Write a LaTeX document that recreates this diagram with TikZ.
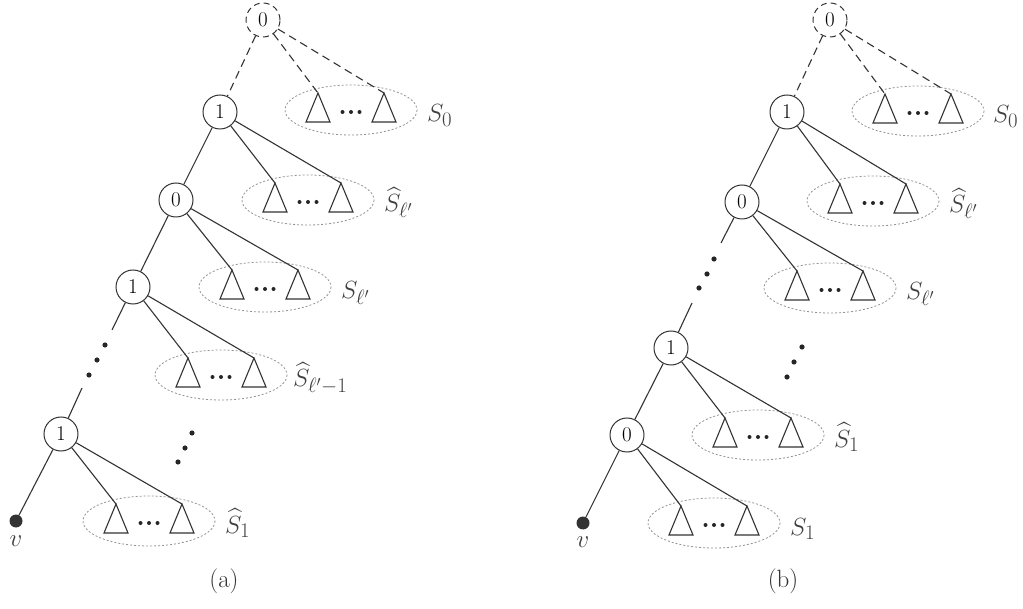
\documentclass[tikz,border=0pt]{standalone}
\usepackage{amsmath}
\newcommand\mkgroup[3]{% name, cx, cy
  \draw[grp] (#2,#3) ellipse [x radius=66, y radius=25];
  \coordinate (#1l) at ({#2-33},{#3-17});
  \coordinate (#1r) at ({#2+33},{#3-17});
  \draw[tri] (#1l) -- ++(-12,29) -- ++(24,0) -- cycle;
  \draw[tri] (#1r) -- ++(-12,29) -- ++(24,0) -- cycle;
  \fill[dotc] ({#2-8.5},{#3+2}) circle [radius=2];
  \fill[dotc] (#2,{#3+2}) circle [radius=2];
  \fill[dotc] ({#2+8.5},{#3+2}) circle [radius=2];
}
\begin{document}
\begin{tikzpicture}[x=1pt,y=-1pt,
  vtx/.style={circle,draw=black!80,line width=1pt,minimum size=34pt,inner sep=0pt,font=\fontsize{21}{24}\selectfont},
  dvtx/.style={vtx,dash pattern=on 6pt off 4pt},
  edge/.style={line width=1.1pt,draw=black!80},
  dedge/.style={edge,dash pattern=on 8pt off 5pt},
  grp/.style={draw=gray!85,line width=0.8pt,dash pattern=on 2pt off 2pt},
  tri/.style={line width=1.1pt,draw=black!80,line join=miter},
  lab/.style={anchor=base west,inner sep=0pt,font=\fontsize{29}{32}\selectfont,text=black!75},
  captext/.style={font=\fontsize{25}{29}\selectfont,text=black!80},
  dotc/.style={black!85},
  leaf/.style={circle,fill=black!80,minimum size=13pt,inner sep=0pt}]
\useasboundingbox (0,0) rectangle (1023,609);

% ---------------- panel (a)
\node[dvtx] (a0) at (263,20) {0};
\node[vtx] (a1) at (220,112) {1};
\node[vtx] (a2) at (176,200) {0};
\node[vtx] (a3) at (133,287) {1};
\node[vtx] (a4) at (61,434) {1};
\node[leaf] (av) at (16,521) {};
\node[lab,anchor=center] (avl) at (16,541) {$v$};

\mkgroup{aA}{351}{110}
\mkgroup{aB}{308}{200}
\mkgroup{aC}{265}{287}
\mkgroup{aD}{221}{375}
\mkgroup{aE}{149}{521}

\draw[dedge] (a0) -- (a1);
\draw[dedge] (a0) -- (aAl);
\draw[dedge] (a0) -- (aAr);
\draw[edge] (a1) -- (a2);
\draw[edge] (a1) -- (aBl);
\draw[edge] (a1) -- (aBr);
\draw[edge] (a2) -- (a3);
\draw[edge] (a2) -- (aCl);
\draw[edge] (a2) -- (aCr);
\draw[edge] (a3) -- (aDl);
\draw[edge] (a3) -- (aDr);
\coordinate (ac1) at (112,330);
\coordinate (ac2) at (82,388);
\draw[edge] (a3) -- (ac1);
\draw[edge] (ac2) -- (a4);
\fill[dotc] (105,345) circle [radius=2.6];
\fill[dotc] (97,360) circle [radius=2.6];
\fill[dotc] (89,375) circle [radius=2.6];
\draw[edge] (a4) -- (aEl);
\draw[edge] (a4) -- (aEr);
\draw[edge] (a4) -- (av);
\fill[dotc] (192,433) circle [radius=2.6];
\fill[dotc] (185,448) circle [radius=2.6];
\fill[dotc] (178,462) circle [radius=2.6];

\node[lab] (aLA) at (427,122) {$S_0$};
\node[lab] (aLB) at (384,212) {$\widehat{S}_{\ell'}$};
\node[lab] (aLC) at (341,299) {$S_{\ell'}$};
\node[lab] (aLD) at (293,387) {$\widehat{S}_{\ell'-1}$};
\node[lab] (aLE) at (225,533) {$\widehat{S}_1$};
\node[captext] (acap) at (224,581) {(a)};

% ---------------- panel (b)
\node[dvtx] (b0) at (830,20) {0};
\node[vtx] (b1) at (787,112) {1};
\node[vtx] (b2) at (742,202) {0};
\node[vtx] (b3) at (671,348) {1};
\node[vtx] (b4) at (627,435) {0};
\node[leaf] (bv) at (583,523) {};
\node[lab,anchor=center] (bvl) at (583,542) {$v$};

\mkgroup{bA}{918}{111}
\mkgroup{bB}{873}{201}
\mkgroup{bC}{830}{288}
\mkgroup{bD}{758}{435}
\mkgroup{bE}{714}{523}

\draw[dedge] (b0) -- (b1);
\draw[dedge] (b0) -- (bAl);
\draw[dedge] (b0) -- (bAr);
\draw[edge] (b1) -- (b2);
\draw[edge] (b1) -- (bBl);
\draw[edge] (b1) -- (bBr);
\draw[edge] (b2) -- (bCl);
\draw[edge] (b2) -- (bCr);
\coordinate (bc1) at (721,243);
\coordinate (bc2) at (692,303);
\draw[edge] (b2) -- (bc1);
\draw[edge] (bc2) -- (b3);
\fill[dotc] (714,259) circle [radius=2.6];
\fill[dotc] (707,274) circle [radius=2.6];
\fill[dotc] (699,288) circle [radius=2.6];
\draw[edge] (b3) -- (b4);
\draw[edge] (b3) -- (bDl);
\draw[edge] (b3) -- (bDr);
\draw[edge] (b4) -- (bEl);
\draw[edge] (b4) -- (bEr);
\draw[edge] (b4) -- (bv);
\fill[dotc] (802,347) circle [radius=2.6];
\fill[dotc] (794,362) circle [radius=2.6];
\fill[dotc] (787,377) circle [radius=2.6];

\node[lab] (bLA) at (993,123) {$S_0$};
\node[lab] (bLB) at (949,213) {$\widehat{S}_{\ell'}$};
\node[lab] (bLC) at (906,300) {$S_{\ell'}$};
\node[lab] (bLD) at (834,447) {$\widehat{S}_1$};
\node[lab] (bLE) at (790,535) {$S_1$};
\node[captext] (bcap) at (783,581) {(b)};
\end{tikzpicture}
\end{document}
